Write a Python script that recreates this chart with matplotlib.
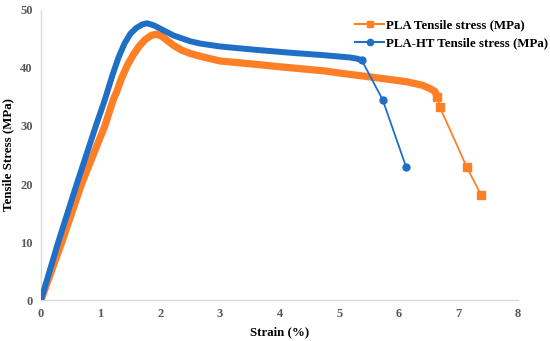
import matplotlib
matplotlib.use("Agg")
import matplotlib.pyplot as plt
import numpy as np

# PLA (orange)
pla_strain = [0.0, 0.35, 0.68, 1.07, 1.21, 1.27, 1.35, 1.45, 1.55, 1.65, 1.75, 1.85,
              1.93, 2.02, 2.12, 2.22, 2.35, 2.50, 2.67, 3.00, 3.62, 4.00, 4.74,
              5.02, 5.86, 6.14, 6.40, 6.55, 6.61, 6.64, 6.69, 7.14, 7.38]
pla_stress = [0.0, 10.0, 20.0, 30.0, 34.5, 35.9, 38.2, 40.5, 42.3, 43.8, 44.9, 45.6,
              45.8, 45.5, 44.7, 43.9, 43.1, 42.5, 42.0, 41.2, 40.6, 40.2, 39.5,
              39.1, 38.0, 37.6, 37.0, 36.3, 35.9, 35.0, 33.2, 22.9, 18.1]
pla_tail = 3  # last points drawn as separate markers

# PLA-HT (blue)
ht_strain = [0.0, 0.29, 0.60, 0.92, 1.07, 1.20, 1.30, 1.40, 1.50, 1.60, 1.70, 1.78,
             1.90, 2.05, 2.22, 2.50, 2.67, 3.00, 3.62, 4.20, 4.74, 5.18, 5.30,
             5.38, 5.73, 6.12]
ht_stress = [0.0, 10.0, 20.0, 30.0, 34.5, 38.8, 41.8, 44.2, 45.9, 46.9, 47.5, 47.7,
             47.3, 46.5, 45.6, 44.6, 44.2, 43.7, 43.1, 42.6, 42.2, 41.8, 41.6,
             41.3, 34.5, 23.0]
ht_tail = 2

orange = "#ff7f27"
blue = "#1f6fc6"

plt.rcParams['font.family'] = ['Liberation Serif', 'DejaVu Serif']

fig = plt.figure(figsize=(5.5, 3.41), dpi=100)
ax = fig.add_axes([0.0745, 0.12, 0.8675, 0.851])

# dense part of each curve (many markers packed tight -> thick band)
ax.plot(pla_strain[:-pla_tail], pla_stress[:-pla_tail], color=orange, lw=5.2,
        solid_capstyle='butt', solid_joinstyle='round', zorder=2)
ax.plot(pla_strain[-pla_tail - 1:], pla_stress[-pla_tail - 1:], color=orange, lw=1.3,
        marker='s', ms=5.5, zorder=2)
ax.plot(ht_strain[:-ht_tail], ht_stress[:-ht_tail], color=blue, lw=4.3,
        solid_capstyle='round', solid_joinstyle='round', zorder=3)
ax.plot(ht_strain[-ht_tail - 1:], ht_stress[-ht_tail - 1:], color=blue, lw=1.3,
        marker='o', ms=5, zorder=3)

# legend handles
ax.plot([], [], color=orange, lw=1.5, marker='s', ms=5, label='PLA Tensile stress (MPa)')
ax.plot([], [], color=blue, lw=1.5, marker='o', ms=4.5, label='PLA-HT Tensile stress (MPa)')
leg = ax.legend(loc='upper right', bbox_to_anchor=(1.088, 1.008), frameon=False,
                prop={'weight': 'bold', 'size': 9.3}, handlelength=2.2,
                handletextpad=0.2, labelspacing=0.5)

ax.set_xlim(0, 8)
ax.set_ylim(0, 50)
ax.set_xticks(range(0, 9))
ax.set_yticks(range(0, 51, 10))
ax.tick_params(length=0, labelsize=9, colors='#595959', pad=6)
for lab in ax.get_xticklabels() + ax.get_yticklabels():
    lab.set_fontweight('bold')

for s in ['top', 'right']:
    ax.spines[s].set_visible(False)
for s in ['left', 'bottom']:
    ax.spines[s].set_color('#d9d9d9')
    ax.spines[s].set_linewidth(1.0)

ax.set_xlabel('Strain (%)', fontsize=9.3, fontweight='bold', labelpad=4)
ax.set_ylabel('Tensile Stress (MPa)', fontsize=9.3, fontweight='bold')
ax.yaxis.set_label_coords(-0.056, 0.5)

fig.savefig('out.png', dpi=100)
